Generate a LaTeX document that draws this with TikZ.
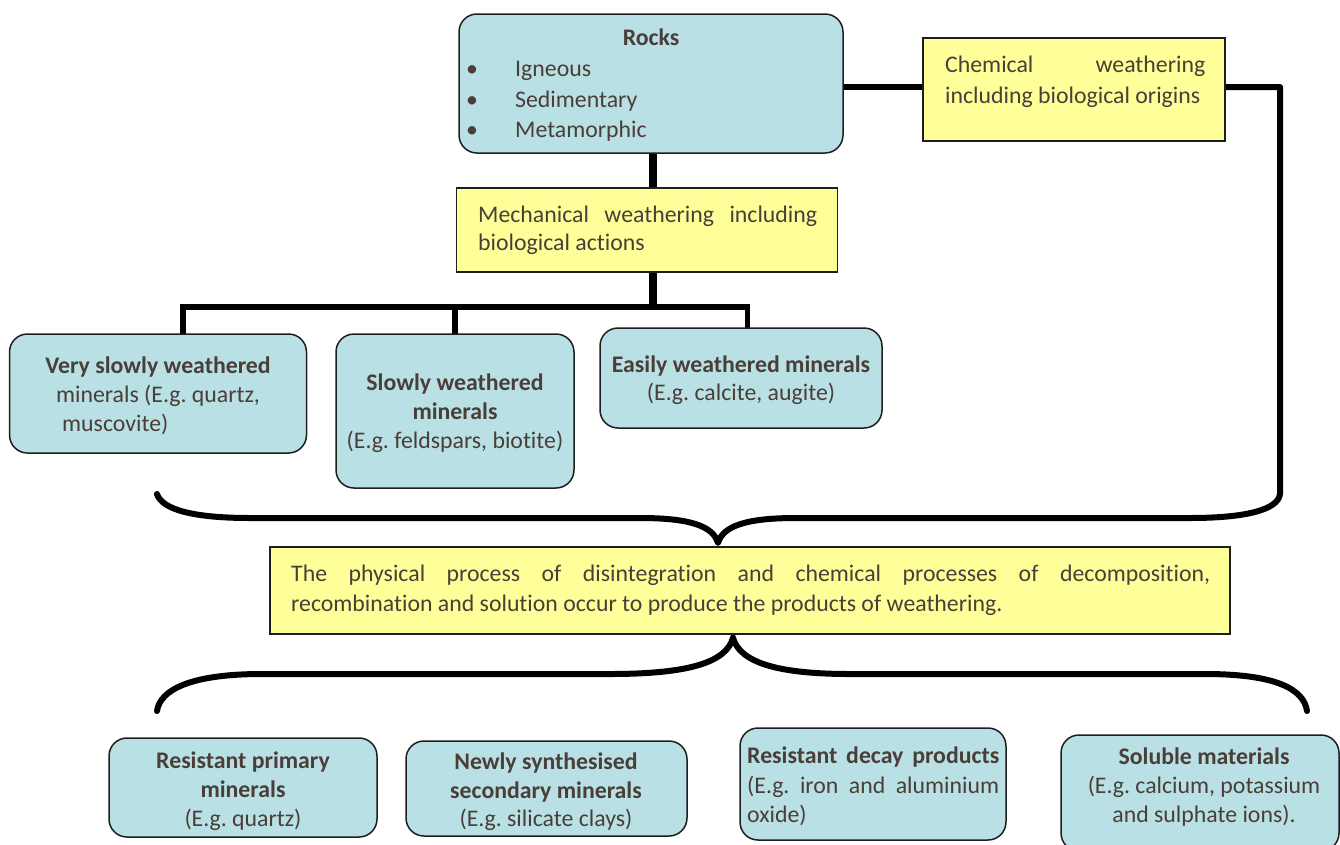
\documentclass[tikz,border=0pt]{standalone}
\usepackage{fontspec}
\setmainfont{Carlito}[Ligatures=NoCommon]
\definecolor{bluefill}{RGB}{185,224,228}
\definecolor{yelfill}{RGB}{255,255,153}
\definecolor{txtc}{HTML}{4A3E38}
\definecolor{edgec}{HTML}{1E1E1E}
\pgfdeclarelayer{bg}
\pgfsetlayers{bg,main}
\frenchspacing
\begin{document}
\begin{tikzpicture}[x=1pt,y=-1pt,
  bluebox/.style={draw=edgec, line width=1.5pt, fill=bluefill, rounded corners=18pt, inner sep=0pt, outer sep=0pt},
  yelbox/.style={draw=edgec, line width=1.5pt, fill=yelfill, inner sep=0pt, outer sep=0pt},
  txt/.style={text=txtc, inner sep=0pt, font=\fontsize{23.8}{29}\selectfont, anchor=base},
  txtl/.style={txt, anchor=base west},
  conn/.style={line width=6pt, draw=black},
  branch/.style={line width=5.5pt, draw=black},
  trunk/.style={line width=8pt, draw=black},
  bracestyle/.style={line width=6pt, draw=black, line cap=round}
]
\useasboundingbox (0,0) rectangle (1340,844);

% ---------- boxes ----------
\node[bluebox, minimum width=384, minimum height=139] (rocks) at (651,83.5) {};
\node[yelbox, minimum width=302, minimum height=103] (chem) at (1074,89.5) {};
\node[yelbox, minimum width=381, minimum height=84] (mech) at (647,230) {};
\node[bluebox, minimum width=297, minimum height=119] (vs) at (158,393.5) {};
\node[bluebox, minimum width=238, minimum height=154] (sw) at (455,411) {};
\node[bluebox, minimum width=282, minimum height=100] (ew) at (741,378) {};
\node[yelbox, minimum width=960, minimum height=87] (proc) at (750,590.5) {};
\node[bluebox, minimum width=268, minimum height=99] (rp) at (243,787.5) {};
\node[bluebox, minimum width=281, minimum height=95] (ns) at (546.5,788.5) {};
\node[bluebox, minimum width=266, minimum height=112] (rd) at (873,784) {};
\node[bluebox, minimum width=278, minimum height=116] (sm) at (1200,793) {};

% ---------- texts ----------
\node[txt] (rocksT) at (651,45) {\bfseries Rocks};
\node[txt] (b1) at (472,76.5) {\textbullet};
\node[txt] (b2) at (472,107) {\textbullet};
\node[txt] (b3) at (472,137.5) {\textbullet};
\node[txtl] (ig) at (515,76.5) {Igneous};
\node[txtl] (se) at (515,107) {Sedimentary};
\node[txtl] (me) at (515,137.5) {Metamorphic};

\node[txtl] (chem1) at (945,72.5) {\makebox[260pt][s]{Chemical weathering}};
\node[txtl] (chem2) at (945,103.5) {including biological origins};

\node[txtl] (mech1) at (478,222.5) {\makebox[339pt][s]{Mechanical weathering including}};
\node[txtl] (mech2) at (478,250.5) {biological actions};

\node[txt] (vs1) at (158,373) {\bfseries Very slowly weathered};
\node[txt] (vs2) at (158,402) {minerals (E.g. quartz,};
\node[txtl] (vs3) at (62,431) {muscovite)};

\node[txt] (sw1) at (455,390) {\bfseries Slowly weathered};
\node[txt] (sw2) at (455,419) {\bfseries minerals};
\node[txt] (sw3) at (455,448) {(E.g. feldspars, biotite)};

\node[txt] (ew1) at (741,372) {\bfseries Easily weathered minerals};
\node[txt] (ew2) at (741,400.5) {(E.g. calcite, augite)};

\node[txtl] (proc1) at (291,581) {\makebox[919pt][s]{The physical process of disintegration and chemical processes of decomposition,}};
\node[txtl] (proc2) at (291,611) {recombination and solution occur to produce the products of weathering.};

\node[txt] (rp1) at (243,768) {\bfseries Resistant primary};
\node[txt] (rp2) at (243,797) {\bfseries minerals};
\node[txt] (rp3) at (243,826) {(E.g. quartz)};

\node[txt] (ns1) at (546,769) {\bfseries Newly synthesised};
\node[txt] (ns2) at (546,798) {\bfseries secondary minerals};
\node[txt] (ns3) at (546,826.5) {(E.g. silicate clays)};

\node[txtl] (rd1) at (747,763.5) {\bfseries\makebox[252pt][s]{Resistant decay products}};
\node[txtl] (rd2) at (747,793) {\makebox[252pt][s]{(E.g. iron and aluminium}};
\node[txtl] (rd3) at (747,822) {oxide)};

\node[txt] (sm1) at (1204,764) {\bfseries Soluble materials};
\node[txt] (sm2) at (1204,793) {(E.g. calcium, potassium};
\node[txt] (sm3) at (1204,822) {and sulphate ions).};

% ---------- connectors (behind boxes) ----------
\begin{pgfonlayer}{bg}
\draw[conn] (rocks.east |- 0,87) -- (chem.west |- 0,87);
\draw[trunk] (653,0 |- rocks.south) -- (653,0 |- mech.north);
\draw[trunk] (653,0 |- mech.south) -- (653,307);
\draw[branch] (183,0 |- vs.north) -- (183,307) -- (747.5,307) -- (747.5,0 |- ew.north);
\draw[branch] (455,307) -- (455,0 |- sw.north);

% brace 1 joined with the line from chemical weathering
\coordinate (br1L) at (157,494);
\coordinate (br1T) at (718,543);
\draw[bracestyle, line join=round]
  (br1L) .. controls (162,510) and (195,518) .. (250,518) -- (640,518)
  .. controls (690,518) and (713,526) .. (br1T)
  .. controls (723,526) and (746,518) .. (796,518) -- (1190,518)
  .. controls (1245,518) and (1278,510) .. (1280,494)
  -- (1280,87) -- (chem.east |- 0,87);

% brace 2
\coordinate (br2L) at (157,711);
\coordinate (br2R) at (1307,711);
\coordinate (br2T) at (733,638);
\draw[bracestyle]
  (br2L) .. controls (160,690) and (190,674) .. (262,674) -- (610,674)
  .. controls (690,674) and (726,662) .. (br2T)
  .. controls (740,662) and (776,674) .. (850,674) -- (1205,674)
  .. controls (1278,674) and (1304,690) .. (br2R);
\end{pgfonlayer}
\end{tikzpicture}
\end{document}
